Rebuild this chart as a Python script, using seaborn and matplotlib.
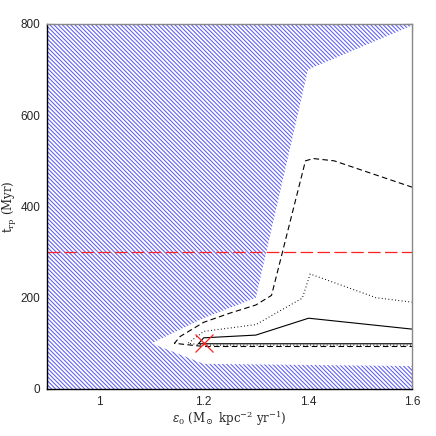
import numpy as np
import pandas as pd
import matplotlib
matplotlib.use("Agg")
import matplotlib.pyplot as plt
import seaborn as sns
from matplotlib.ticker import MultipleLocator

# ---- data ----
# allowed (white) region boundary
allowed_x = [1.10, 1.20, 1.30, 1.40, 1.60, 1.60, 1.20, 1.10]
allowed_y = [100, 155, 200, 700, 797, 50, 55, 100]

# contours
dash_x = [1.60, 1.45, 1.41, 1.395, 1.33, 1.30, 1.25, 1.20, 1.155, 1.144, 1.20, 1.60]
dash_y = [442, 500, 505, 500, 205, 184, 166, 146, 115, 100, 93, 93]

dot_x = [1.60, 1.53, 1.404, 1.389, 1.30, 1.20, 1.17, 1.20, 1.60]
dot_y = [190, 200, 252, 199, 141, 126, 100, 96, 96]

solid_x = [1.60, 1.401, 1.30, 1.20, 1.19, 1.60]
solid_y = [131, 155, 118, 112, 99, 99]

ref_level = 300
best_x, best_y = [1.2], [100]

xlim = (0.9, 1.6)
ylim = (0, 800)

# ---- style ----
sns.set_style("ticks")
plt.rcParams['font.family'] = ['Liberation Sans', 'DejaVu Sans']
plt.rcParams['mathtext.fontset'] = 'dejavuserif'
plt.rcParams['hatch.linewidth'] = 0.75

fig = plt.figure(figsize=(4.36, 4.36), dpi=100)
ax = fig.add_axes([0.108, 0.108, 0.838, 0.837])

# hatched excluded region (full box) then white allowed polygon
ax.fill([xlim[0], xlim[1], xlim[1], xlim[0]], [ylim[0], ylim[0], ylim[1], ylim[1]],
        facecolor='white', edgecolor='#5c5cf5', hatch='\\' * 8, linewidth=0, zorder=1)
ax.fill(allowed_x, allowed_y, facecolor='white', edgecolor='none', zorder=2)

df_d = pd.DataFrame({'x': dash_x, 'y': dash_y})
df_o = pd.DataFrame({'x': dot_x, 'y': dot_y})
df_s = pd.DataFrame({'x': solid_x, 'y': solid_y})
sns.lineplot(data=df_d, x='x', y='y', sort=False, estimator=None, ax=ax,
             color='black', lw=0.8, zorder=3).lines[-1].set_dashes((5, 3))
sns.lineplot(data=df_o, x='x', y='y', sort=False, estimator=None, ax=ax,
             color='black', lw=0.8, zorder=3).lines[-1].set_dashes((0.8, 2.2))
sns.lineplot(data=df_s, x='x', y='y', sort=False, estimator=None, ax=ax,
             color='black', lw=0.8, zorder=3)

ax.axhline(ref_level, color='#ff2020', lw=0.9, dashes=(10, 3.5), zorder=4)
ax.plot(best_x, best_y, marker='x', color='#ff2020', ms=13, mew=0.9, ls='none', zorder=5)

ax.set_xlim(*xlim)
ax.set_ylim(*ylim)
ax.xaxis.set_major_locator(MultipleLocator(0.2))
ax.xaxis.set_minor_locator(MultipleLocator(0.05))
ax.yaxis.set_major_locator(MultipleLocator(200))
ax.yaxis.set_minor_locator(MultipleLocator(50))
ax.set_xticks([1.0, 1.2, 1.4, 1.6])
ax.set_xticklabels(['1', '1.2', '1.4', '1.6'])
ax.tick_params(which='both', direction='in', top=True, right=True, labelsize=8.5,
               color='black', width=0.8)
ax.tick_params(which='major', length=6, pad=5)
ax.tick_params(which='minor', length=3)

for s in ['left', 'bottom']:
    ax.spines[s].set_color('black')
for s in ['top', 'right']:
    ax.spines[s].set_color('#888888')
for s in ax.spines.values():
    s.set_linewidth(1.0)
    s.set_zorder(6)

ax.set_xlabel(r'$\epsilon_0$ (M$_\odot$ kpc$^{-2}$ yr$^{-1}$)', family='DejaVu Serif', fontsize=8.5, labelpad=1)
ax.set_ylabel(r't$_{\rm rp}$ (Myr)', family='DejaVu Serif', fontsize=8.5, labelpad=1)

fig.savefig('out.png', dpi=100)
